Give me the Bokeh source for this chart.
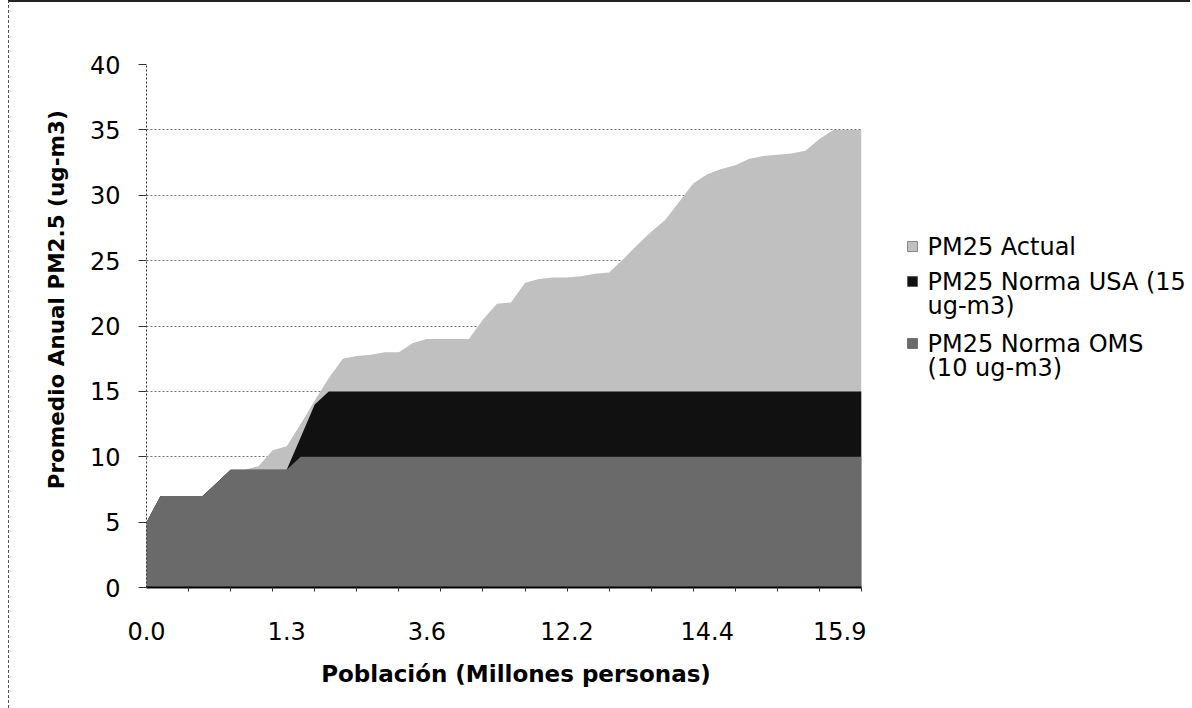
from bokeh.plotting import figure
from bokeh.layouts import row
from bokeh.models import FixedTicker, Range1d
from bokeh.core.properties import value
from bokeh.embed import file_html
from bokeh.resources import INLINE

# ---- data ----
categories = list(range(52))
actual = [5, 7, 7, 7, 7, 8, 9, 9, 9.3, 10.5,
          10.8, 12.5, 14.3, 16, 17.5, 17.7, 17.8, 18, 18, 18.7,
          19, 19, 19, 19, 20.5, 21.7, 21.8, 23.3, 23.6, 23.7,
          23.7, 23.8, 24, 24.1, 25.1, 26.2, 27.2, 28.1, 29.5, 30.9,
          31.6, 32, 32.3, 32.8, 33, 33.1, 33.2, 33.4, 34.3, 35,
          35, 35]
usa = [5, 7, 7, 7, 7, 8, 9, 9, 9, 9,
       9, 11.5, 14, 15, 15, 15, 15, 15, 15, 15,
       15, 15, 15, 15, 15, 15, 15, 15, 15, 15,
       15, 15, 15, 15, 15, 15, 15, 15, 15, 15,
       15, 15, 15, 15, 15, 15, 15, 15, 15, 15,
       15, 15]
oms = [5, 7, 7, 7, 7, 8, 9, 9, 9, 9,
       9, 10, 10, 10, 10, 10, 10, 10, 10, 10,
       10, 10, 10, 10, 10, 10, 10, 10, 10, 10,
       10, 10, 10, 10, 10, 10, 10, 10, 10, 10,
       10, 10, 10, 10, 10, 10, 10, 10, 10, 10,
       10, 10]
label_positions = [0, 10, 20, 30, 40, 50]
tick_labels = ["0.0", "1.3", "3.6", "12.2", "14.4", "15.9"]
minor_positions = list(range(3, 52, 3))
y_ticks = [0, 5, 10, 15, 20, 25, 30, 35, 40]
legend_lines = [["PM25 Actual"],
                ["PM25 Norma USA (15", "ug-m3)"],
                ["PM25 Norma OMS", "(10 ug-m3)"]]
colors = ["#c0c0c0", "#111111", "#6a6a6a"]

FONT = "DejaVu Sans"
H = 706
MAIN_W = 857
LEG_W = 324
NB = "\u00a0"

p = figure(width=MAIN_W, height=H, output_backend="svg", toolbar_location=None,
           x_range=Range1d(0, 51), y_range=Range1d(0, 40),
           min_border_left=137, min_border_right=5, min_border_top=62,
           min_border_bottom=H - 585)
p.outline_line_color = None

# areas: actual behind, USA norm, then WHO norm in front
p.varea(x=categories, y1=0, y2=actual, fill_color=colors[0])
p.varea(x=categories, y1=0, y2=usa, fill_color=colors[1])
p.varea(x=categories, y1=0, y2=oms, fill_color=colors[2])

# grid
p.xgrid.visible = False
p.ygrid.ticker = FixedTicker(ticks=[5, 10, 15, 20, 25, 30, 35])
p.ygrid.grid_line_color = "#707070"
p.ygrid.grid_line_dash = "2 2"
p.ygrid.grid_line_width = 1

# y axis
p.yaxis.ticker = FixedTicker(ticks=y_ticks)
p.yaxis.axis_label = NB * 7 + "Promedio Anual PM2.5 (ug-m3)"
p.yaxis.axis_label_text_font = FONT
p.yaxis.axis_label_text_font_style = "bold"
p.yaxis.axis_label_text_font_size = "21.5px"
p.yaxis.axis_label_text_color = "#000000"
p.yaxis.axis_label_standoff = 18
p.yaxis.major_label_text_font = FONT
p.yaxis.major_label_text_font_size = "24px"
p.yaxis.major_label_text_color = "#000000"
p.yaxis.major_label_standoff = 18
p.yaxis.major_tick_out = 8
p.yaxis.major_tick_in = 0
p.yaxis.minor_tick_line_color = None
p.yaxis.axis_line_color = "#333333"
p.yaxis.axis_line_dash = "2 2"
p.yaxis.major_tick_line_color = "#333333"

# x axis
p.xaxis.ticker = FixedTicker(ticks=label_positions, minor_ticks=minor_positions)
p.xaxis.major_label_overrides = {pos: lab for pos, lab in zip(label_positions, tick_labels)}
p.xaxis.axis_label = NB * 3 + "Población (Millones personas)"
p.xaxis.axis_label_text_font = FONT
p.xaxis.axis_label_text_font_style = "bold"
p.xaxis.axis_label_text_font_size = "23px"
p.xaxis.axis_label_text_color = "#000000"
p.xaxis.axis_label_standoff = 18
p.xaxis.major_label_text_font = FONT
p.xaxis.major_label_text_font_size = "24px"
p.xaxis.major_label_text_color = "#000000"
p.xaxis.major_label_standoff = 30
p.xaxis.major_tick_out = 0
p.xaxis.major_tick_in = 0
p.xaxis.minor_tick_out = 4
p.xaxis.minor_tick_in = 0
p.xaxis.minor_tick_line_color = "#333333"
p.xaxis.axis_line_color = "black"
p.xaxis.axis_line_width = 2

# legend panel (separate figure; its frame is aligned with the main frame,
# so its y range is expressed in page pixels from frame top 64 to bottom 587)
lg = figure(width=LEG_W, height=H, output_backend="svg", toolbar_location=None,
            x_range=Range1d(866, 866 + LEG_W), y_range=Range1d(587, 64),
            min_border_left=0, min_border_right=0,
            min_border_top=62, min_border_bottom=H - 585)
lg.axis.visible = False
lg.grid.visible = False
lg.outline_line_color = None

entry_tops = [246, 281, 343]
line_step = 24
mx, tx = 912, 927
for top, lines, col in zip(entry_tops, legend_lines, colors):
    lg.scatter(x=[mx], y=[top], marker="square", size=10, fill_color=col,
               line_color="#333333", line_width=0.5)
    ys = [top + k * line_step for k in range(len(lines))]
    lg.text(x=[tx] * len(lines), y=ys, text=lines, text_font=value(FONT),
            text_font_size="24px", text_color="#000000",
            text_baseline="middle", text_align="left")

layout = row(p, lg, spacing=0,
             styles={"border-top": "2px solid #222222",
                     "border-left": "1px dashed #555555",
                     "margin-left": "8px"})
open("out.html", "w").write(file_html(layout, INLINE))
